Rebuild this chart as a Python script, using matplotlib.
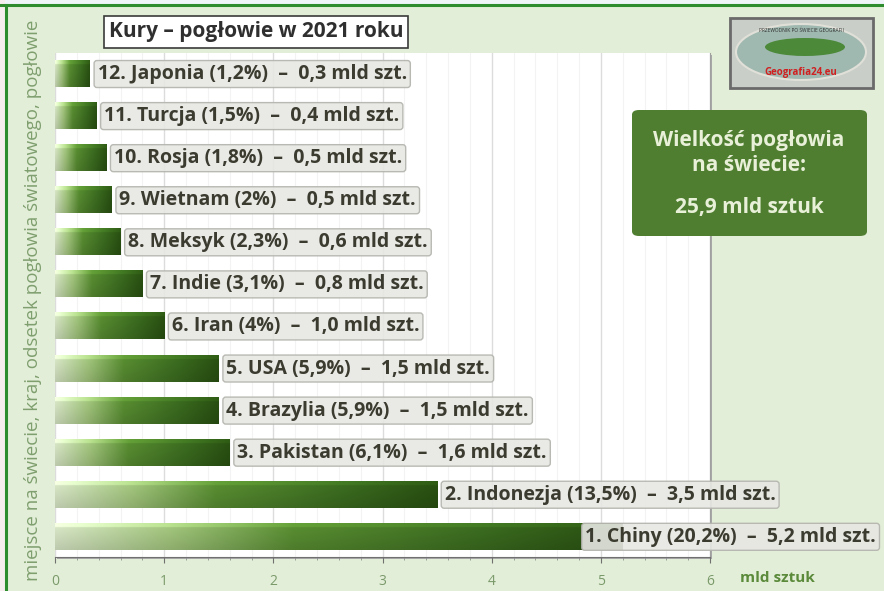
import numpy as np
import matplotlib
matplotlib.use("Agg")
import matplotlib.pyplot as plt
from matplotlib.colors import LinearSegmentedColormap
from matplotlib.patches import FancyBboxPatch, Rectangle, Ellipse

plt.rcParams['font.family'] = ['Open Sans', 'DejaVu Sans']

# dane (od 1. miejsca do 12.)
kraje = ["Chiny", "Indonezja", "Pakistan", "Brazylia", "USA", "Iran",
         "Indie", "Meksyk", "Wietnam", "Rosja", "Turcja", "Japonia"]
odsetek = ["20,2%", "13,5%", "6,1%", "5,9%", "5,9%", "4%",
           "3,1%", "2,3%", "2%", "1,8%", "1,5%", "1,2%"]
poglowie_txt = ["5,2", "3,5", "1,6", "1,5", "1,5", "1,0",
                "0,8", "0,6", "0,5", "0,5", "0,4", "0,3"]
poglowie = [5.2, 3.5, 1.6, 1.5, 1.5, 1.0, 0.8, 0.6, 0.52, 0.47, 0.38, 0.32]
xticks = [0, 1, 2, 3, 4, 5, 6]

W, H = 884, 591
fig = plt.figure(figsize=(W / 100, H / 100), dpi=100)
fig.patch.set_facecolor("#e3eed8")

def fx(px): return px / W
def fy(py): return 1 - py / H

# ramka strony
fig.patches.append(Rectangle((0, fy(5)), 1, 5 / H, transform=fig.transFigure,
                             facecolor="#eef4f8", edgecolor="none", zorder=0))
fig.patches.append(Rectangle((0, 0), fx(5), 1, transform=fig.transFigure,
                             facecolor="#f6eeee", edgecolor="none", zorder=0))
fig.add_artist(plt.Line2D([0, 1], [fy(5), fy(5)], transform=fig.transFigure,
                          color="#2e8b2e", lw=2.2))
fig.add_artist(plt.Line2D([fx(6), fx(6)], [0, fy(5)], transform=fig.transFigure,
                          color="#2e8b2e", lw=2.2))

# cien obszaru wykresu
fig.patches.append(Rectangle((fx(57), fy(559)), fx(710) - fx(55), fy(53) - fy(557),
                             transform=fig.transFigure, facecolor="#a8a8a8",
                             edgecolor="none", zorder=0.5))

ax = fig.add_axes([fx(55), fy(557), fx(710) - fx(55), fy(53) - fy(557)])
ax.set_zorder(1)
ax.set_facecolor("white")
ax.set_xlim(0, 6)
ax.set_ylim(-0.48, 11.5)

cmap = LinearSegmentedColormap.from_list(
    "bar", [(0.0, "#dcebca"), (0.2, "#a6ca80"), (0.42, "#5a9032"),
            (0.75, "#3c6e20"), (1.0, "#2a5212")])
n = 256
base = cmap(np.linspace(0, 1, n))[:, :3]
shade = np.linspace(1.0, 0.86, 20)[:, None, None]
shade[0:3] = 1.12
grad = np.clip(base[None, :, :] * shade, 0, 1)

hh = 0.31
for i, (k, o, t, v) in enumerate(zip(kraje, odsetek, poglowie_txt, poglowie)):
    ax.imshow(grad, extent=(0, v, i - hh, i + hh), aspect="auto",
              origin="upper", zorder=2, interpolation="bilinear")
    lab = f"{i + 1}. {k} ({o})  –  {t} mld szt."
    tx = ax.text(v + 0.07, i, lab, ha="left", va="center", fontsize=14,
                 fontweight="bold", color="#3b3b30", zorder=4, clip_on=False,
                 bbox=dict(boxstyle="round,pad=0.18,rounding_size=0.15",
                           facecolor="#e7e7e3", edgecolor="#b3b3ad", lw=1.0, alpha=0.9))
    fig.canvas.draw()
    if tx.get_window_extent().x1 > W - 8:
        tx.set_ha("right")
        tx.set_x(ax.transData.inverted().transform((W - 8, 0))[0])

ax.set_xticks(xticks)
ax.set_xticks(np.arange(0, 6.01, 0.2), minor=True)
ax.set_yticks([])
ax.grid(axis="x", which="major", color="#dcdcdc", lw=1.0, zorder=1)
ax.grid(axis="x", which="minor", color="#f3f3f3", lw=0.8, zorder=1)
ax.tick_params(axis="x", which="major", length=4, color="#707070",
               labelsize=10, labelcolor="#7a9a6a", pad=8)
ax.tick_params(axis="x", which="minor", length=2, color="#909090")
for s in ["top", "left"]:
    ax.spines[s].set_visible(False)
ax.spines["bottom"].set_color("#707070")
ax.spines["right"].set_color("#a0a0a0")

fig.text(fx(740), fy(578), "mld sztuk", fontsize=11, fontweight="bold",
         color="#5a8a3a", va="center", ha="left")
fig.text(fx(33), fy(300), "miejsce na świecie, kraj, odsetek pogłowia światowego, pogłowie",
         rotation=90, fontsize=13.5, color="#7f9f6f", ha="center", va="center")

# tytul
fig.text(fx(256), fy(32), "Kury – pogłowie w 2021 roku", fontsize=15,
         fontweight="bold", color="#2f2f2f", ha="center", va="center",
         bbox=dict(boxstyle="square,pad=0.25", facecolor="white",
                   edgecolor="#3a3a3a", lw=1.2))

# ramka z suma
fig.patches.append(FancyBboxPatch((fx(632), fy(236)), fx(867) - fx(632), fy(110) - fy(236),
                                  boxstyle="round,pad=0,rounding_size=0.008",
                                  transform=fig.transFigure, facecolor="#4f7e31",
                                  edgecolor="none", zorder=3))
fig.text(fx(749), fy(153), "Wielkość pogłowia\nna świecie:", fontsize=15,
         fontweight="bold", color="#e8f0d8", ha="center", va="center",
         linespacing=1.2, zorder=4)
fig.text(fx(749), fy(207), "25,9 mld sztuk", fontsize=15, fontweight="bold",
         color="#e8f0d8", ha="center", va="center", zorder=4)

# logo
fig.patches.append(Rectangle((fx(730), fy(88)), fx(873) - fx(730), fy(18) - fy(88),
                             transform=fig.transFigure, facecolor="#c9cfc8",
                             edgecolor="#6a6a6a", lw=2, zorder=3))
fig.patches.append(Ellipse((fx(801), fy(52)), fx(130), 56 / H, transform=fig.transFigure,
                           facecolor="#9fb8b0", edgecolor="#e0e0d8", lw=1.5, zorder=4))
fig.patches.append(Ellipse((fx(805), fy(47)), fx(80), 18 / H, transform=fig.transFigure,
                           facecolor="#4c8a3a", edgecolor="none", zorder=5))
fig.text(fx(801), fy(73), "Geografia24.eu", fontsize=7, fontweight="bold",
         color="#d02020", ha="center", va="center", zorder=6)
fig.text(fx(801), fy(30), "PRZEWODNIK PO ŚWIECIE GEOGRAFII", fontsize=3.5,
         color="#303030", ha="center", va="center", zorder=6)

fig.savefig("out.png", dpi=100, facecolor=fig.get_facecolor())
